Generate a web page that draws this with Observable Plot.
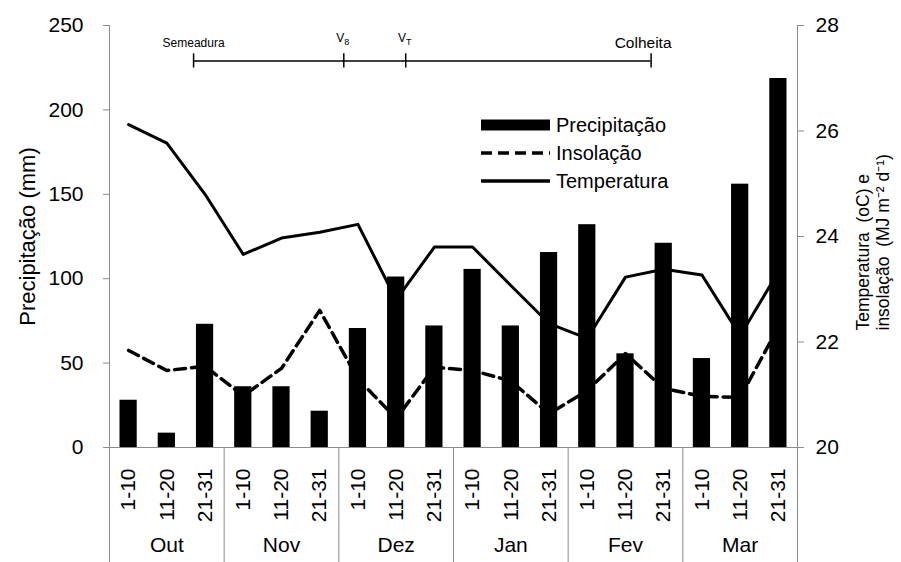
<!DOCTYPE html>
<html>
<head>
<meta charset="utf-8">
<script src="https://cdn.jsdelivr.net/npm/d3@7"></script>
<script src="https://cdn.jsdelivr.net/npm/@observablehq/plot@0.6"></script>
<style>
  body { margin: 0; background: #fff; font-family: "Liberation Sans", Arial, sans-serif; }
  #wrap { position: relative; width: 901px; height: 562px; }
  #legend { position: absolute; left: 481px; top: 111px; }
  .row { position: relative; height: 28px; display: flex; align-items: center; font-size: 20px; color: #000; }
  .row svg { margin-right: 6px; }
</style>
</head>
<body>
<div id="wrap"><div id="legend"></div></div>
<script>
// ---- data ----
const months = ["Out", "Nov", "Dez", "Jan", "Fev", "Mar"];
const decendios = ["1-10", "11-20", "21-31"];
const precipitacao = [28, 8.5, 73, 36, 36, 21.5, 70.5, 101, 72, 105.5, 72, 115.5, 132, 55.5, 121, 52.7, 156, 218.6];
const temperatura = [26.12, 25.77, 24.8, 23.66, 23.97, 24.08, 24.23, 22.8, 23.8, 23.8, 23.07, 22.35, 22.07, 23.23, 23.38, 23.27, 22.12, 23.33];
const insolacao = [21.84, 21.46, 21.54, 20.98, 21.5, 22.6, 21.3, 20.55, 21.52, 21.46, 21.26, 20.64, 21.08, 21.78, 21.12, 20.97, 20.95, 22.28];
const fases = ["Semeadura", "V8", "VT", "Colheita"];
const fasePos = [2.2, 6.13, 7.75, 14.17];   // position in decendio units from 1 Oct
const leftTicks = [0, 50, 100, 150, 200, 250];
const rightTicks = [20, 22, 24, 26, 28];
const legendItems = ["Precipitação", "Insolação", "Temperatura"];

// ---- build table ----
const rows = [];
months.forEach((m, mi) => decendios.forEach((d, di) => rows.push({ i: mi * 3 + di, month: m, dec: d })));
rows.forEach((r, k) => { r.precip = precipitacao[k]; r.temp = temperatura[k]; r.ins = insolacao[k]; });
const faseRows = fases.map((f, k) => ({ fase: f, pos: fasePos[k] }));

// right-axis values mapped onto the left (mm) scale
const rMin = rightTicks[0], rMax = rightTicks[rightTicks.length - 1];
const lMax = leftTicks[leftTicks.length - 1];
const toLeft = v => (v - rMin) / (rMax - rMin) * lMax;
const faseLevel = 229;

const gray = "#8c8c8c";

const chart = Plot.plot({
  width: 901,
  height: 562,
  marginLeft: 109,
  marginRight: 104,
  marginTop: 25,
  marginBottom: 115,
  x: { type: "linear", domain: [0, months.length * decendios.length] },
  y: { domain: [0, lMax] },
  style: { fontFamily: "'Liberation Sans', Arial, sans-serif", color: "#000", background: "#fff", overflow: "visible" },
  marks: [
    // left axis
    Plot.axisY({ ticks: leftTicks, tickSize: 6, tickPadding: 20, fontSize: 21, stroke: gray, fill: "#000", label: null }),
    // right axis
    Plot.axisY({ anchor: "right", ticks: rightTicks.map(toLeft), tickFormat: (d) => String(Math.round(rMin + d / lMax * (rMax - rMin))), tickSize: 6, tickPadding: 12, fontSize: 21, stroke: gray, fill: "#000", label: null }),
    // month separators
    Plot.axisX({ ticks: d3.range(0, 19, 3), tickSize: 115, tickFormat: () => "", stroke: gray, label: null }),
    // decendio labels
    Plot.axisX({ ticks: rows.map(r => r.i + 0.5), tickSize: 0, tickPadding: 21, tickRotate: -90, tickFormat: d => decendios[Math.floor(d) % 3], fontSize: 21, label: null }),
    // month labels
    Plot.axisX({ ticks: months.map((m, mi) => mi * 3 + 1.5), tickSize: 0, tickPadding: 90, tickFormat: d => months[Math.floor(d / 3)], fontSize: 21, label: null }),
    Plot.ruleY([0], { stroke: gray }),
    Plot.ruleX([0, 18], { stroke: gray }),
    // bars
    Plot.rectY(rows, { x1: d => d.i, x2: d => d.i + 1, y: "precip", insetLeft: 10.5, insetRight: 10.5, fill: "#000" }),
    // lines
    Plot.line(rows, { x: d => d.i + 0.5, y: d => toLeft(d.ins), stroke: "#000", strokeWidth: 3.5, strokeDasharray: "11,6" }),
    Plot.line(rows, { x: d => d.i + 0.5, y: d => toLeft(d.temp), stroke: "#000", strokeWidth: 3 }),
    // phenology annotation
    Plot.ruleY([faseLevel], { x1: fasePos[0], x2: fasePos[fasePos.length - 1], stroke: "#000", strokeWidth: 1.5 }),
    Plot.ruleX(faseRows, { x: "pos", y1: faseLevel - 4.2, y2: faseLevel + 4.2, stroke: "#000", strokeWidth: 1.5 }),
    Plot.text(faseRows.filter(d => d.fase === "Semeadura"), { x: "pos", y: faseLevel, dy: -18, text: "fase", fontSize: 12, fill: "#000" }),
    Plot.text(faseRows.filter(d => d.fase === "V8" || d.fase === "VT"), { x: "pos", y: faseLevel, dy: -23, dx: -1, text: "fase", fontSize: 12, fill: "#000" }),
    Plot.text(faseRows.filter(d => d.fase === "Colheita"), { x: "pos", y: faseLevel, dy: -18, dx: -8, text: "fase", fontSize: 15.5, fill: "#000" }),
    // axis titles
    Plot.text(["Precipitação (mm)"], { frameAnchor: "left", textAnchor: "middle", rotate: -90, dx: -82, fontSize: 22, fill: "#000" }),
    Plot.text(["Temperatura  (oC) e\ninsolação  (MJ m⁻² d⁻¹)"], { frameAnchor: "right", textAnchor: "start", rotate: -90, dx: 75, dy: 94, fontSize: 17.5, lineHeight: 1.15, fill: "#000" })
  ]
});

// subscripts for V8 / VT
chart.querySelectorAll("text").forEach(t => {
  const s = t.textContent;
  if (s === "V8" || s === "VT") {
    t.textContent = "V";
    const ts = document.createElementNS("http://www.w3.org/2000/svg", "tspan");
    ts.setAttribute("font-size", "9");
    ts.setAttribute("dy", "3");
    ts.textContent = s.slice(1);
    t.appendChild(ts);
  }
});

const wrap = document.getElementById("wrap");
wrap.insertBefore(chart, wrap.firstChild);

// legend
const legend = d3.select("#legend");
legendItems.forEach((label, k) => {
  const row = legend.append("div").attr("class", "row");
  const sv = row.append("svg").attr("width", 69).attr("height", 14);
  if (k === 0) sv.append("rect").attr("x", 0).attr("y", 1.5).attr("width", 69).attr("height", 11).attr("fill", "#000");
  else sv.append("line").attr("x1", 0).attr("x2", 69).attr("y1", 7).attr("y2", 7)
    .attr("stroke", "#000").attr("stroke-width", 3.5).attr("stroke-dasharray", k === 1 ? "11,6" : null);
  row.append("span").text(label);
});
</script>
</body>
</html>
